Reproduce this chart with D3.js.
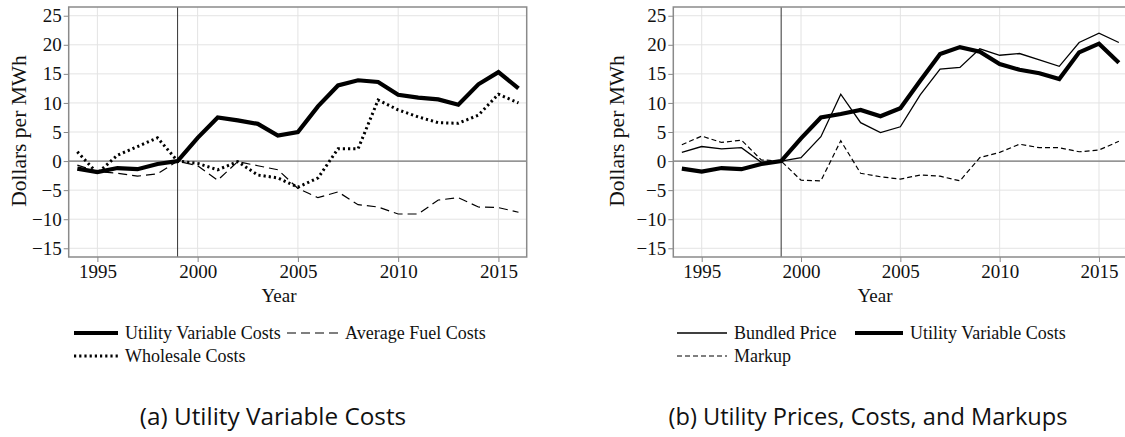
<!DOCTYPE html>
<html>
<head>
<meta charset="utf-8">
<script src="https://cdn.jsdelivr.net/npm/d3@7"></script>
<style>
  body { margin: 0; background: #fff; }
  svg { display: block; }
</style>
</head>
<body>
<div id="chart"></div>
<script>
// years on the x axis
const years = d3.range(1994, 2017);
const xTicks = [1995, 2000, 2005, 2010, 2015];
const yTicks = [-15, -10, -5, 0, 5, 10, 15, 20, 25];

// panel (a)
const utilVarCostsA = [-1.3, -1.9, -1.2, -1.4, -0.5, 0, 4.0, 7.5, 7.0, 6.4, 4.4, 5.0, 9.4, 13.0, 13.9, 13.6, 11.4, 10.9, 10.6, 9.7, 13.2, 15.3, 12.5];
const wholesaleCosts = [1.6, -2.1, 1.0, 2.5, 4.0, 0, -0.4, -1.5, -0.1, -2.4, -2.9, -4.5, -2.9, 2.1, 2.1, 10.5, 8.8, 7.6, 6.6, 6.5, 7.9, 11.5, 10.0];
const avgFuelCosts = [-0.7, -1.8, -2.1, -2.6, -2.2, 0, -0.8, -3.3, -0.1, -0.8, -1.5, -4.7, -6.3, -5.3, -7.5, -7.9, -9.1, -9.1, -6.7, -6.3, -7.9, -8.0, -8.8];

// panel (b)
const bundledPrice = [1.5, 2.5, 2.1, 2.3, -0.2, 0, 0.6, 4.2, 11.5, 6.6, 4.9, 5.9, 11.4, 15.8, 16.1, 19.3, 18.2, 18.5, 17.4, 16.3, 20.4, 22.0, 20.4];
const utilVarCostsB = [-1.3, -1.8, -1.2, -1.4, -0.5, 0, 3.9, 7.5, 8.1, 8.8, 7.7, 9.1, 13.8, 18.4, 19.6, 18.8, 16.7, 15.7, 15.1, 14.1, 18.7, 20.2, 16.9];
const markup = [2.8, 4.3, 3.2, 3.6, 0.2, 0, -3.3, -3.4, 3.5, -2.1, -2.7, -3.1, -2.4, -2.6, -3.4, 0.6, 1.5, 2.9, 2.3, 2.3, 1.6, 1.9, 3.4];

const width = 1125, height = 437;
const SERIF = "Liberation Serif";

const svg = d3.select("#chart")
  .append("svg")
    .attr("width", width)
    .attr("height", height);

const y = d3.scaleLinear().domain([-16.5, 26.5]).range([257, 7]);

// line styles
const styles = {
  thick:  { w: 4.2, dash: null },
  thin:   { w: 1.3, dash: null },
  dotted: { w: 3, dash: "2.2,3" },
  dashA:  { w: 1.2, dash: "9,5" },
  dashB:  { w: 1.2, dash: "5,3" }
};

function serifText(sel, size) {
  return sel.attr("font-family", SERIF).attr("font-size", size).attr("fill", "#111");
}

function drawPanel(opts) {
  const x = d3.scaleLinear().domain([1993.57, 2016.41]).range(opts.xRange);
  const g = svg.append("g");
  const [x0, x1] = opts.xRange;

  // grid
  g.append("g").selectAll("line").data(yTicks).join("line")
    .attr("x1", x0).attr("x2", x1)
    .attr("y1", d => y(d)).attr("y2", d => y(d))
    .attr("stroke", "#e3e3e3").attr("stroke-width", 1);
  g.append("g").selectAll("line").data(xTicks).join("line")
    .attr("x1", d => x(d)).attr("x2", d => x(d))
    .attr("y1", y.range()[1]).attr("y2", y.range()[0])
    .attr("stroke", "#e3e3e3").attr("stroke-width", 1);

  // reference lines
  g.append("line")
    .attr("x1", x0).attr("x2", x1)
    .attr("y1", y(0)).attr("y2", y(0))
    .attr("stroke", "#777").attr("stroke-width", 1.2);
  g.append("line")
    .attr("x1", x(1999)).attr("x2", x(1999))
    .attr("y1", y.range()[1]).attr("y2", y.range()[0])
    .attr("stroke", "#333").attr("stroke-width", 1);

  // axes
  const xAxis = g.append("g")
    .attr("transform", `translate(0,${y.range()[0]})`)
    .call(d3.axisBottom(x).tickValues(xTicks).tickFormat(d3.format("d")).tickSize(5).tickPadding(3));
  const yAxis = g.append("g")
    .attr("transform", `translate(${x0},0)`)
    .call(d3.axisLeft(y).tickValues(yTicks).tickSize(5).tickPadding(2));
  [xAxis, yAxis].forEach(a => {
    a.attr("font-family", SERIF).attr("font-size", 19);
    a.select(".domain").remove();
    a.selectAll(".tick line").attr("stroke", "#888");
    a.selectAll(".tick text").attr("fill", "#111");
  });

  // frame
  g.append("rect")
    .attr("x", x0).attr("y", y.range()[1])
    .attr("width", x1 - x0).attr("height", y.range()[0] - y.range()[1])
    .attr("fill", "none").attr("stroke", "#8a8a8a").attr("stroke-width", 1.5);

  // series
  const line = d3.line().x((d, i) => x(years[i])).y(d => y(d));
  opts.series.forEach(s => {
    const st = styles[s.style];
    g.append("path")
      .datum(s.values)
      .attr("fill", "none")
      .attr("stroke", "#000")
      .attr("stroke-width", st.w)
      .attr("stroke-dasharray", st.dash)
      .attr("stroke-linejoin", "miter")
      .attr("d", line);
  });

  // axis titles
  serifText(g.append("text"), 21.5)
    .attr("transform", `translate(${opts.yLabelX},131) rotate(-90)`)
    .attr("text-anchor", "middle")
    .attr("dominant-baseline", "central")
    .text("Dollars per MWh");
  serifText(g.append("text"), 19)
    .attr("x", opts.yearX).attr("y", 302)
    .attr("text-anchor", "middle")
    .text("Year");

  // legend
  opts.legend.forEach(item => {
    const st = styles[item.style];
    g.append("line")
      .attr("x1", item.x).attr("x2", item.x + item.len)
      .attr("y1", item.y).attr("y2", item.y)
      .attr("stroke", "#000")
      .attr("stroke-width", st.w)
      .attr("stroke-dasharray", st.dash);
    serifText(g.append("text"), 18)
      .attr("x", item.x + item.len + 7).attr("y", item.y + 6)
      .text(item.label);
  });

  // caption
  g.append("text")
    .attr("x", opts.captionX).attr("y", 425)
    .attr("text-anchor", "middle")
    .attr("font-family", "Open Sans")
    .attr("font-size", opts.captionSize)
    .attr("fill", "#111")
    .text(opts.caption);
}

drawPanel({
  xRange: [68.7, 526.7],
  yLabelX: 19,
  yearX: 279,
  captionX: 273,
  captionSize: 24.3,
  caption: "(a) Utility Variable Costs",
  series: [
    { values: avgFuelCosts, style: "dashA" },
    { values: wholesaleCosts, style: "dotted" },
    { values: utilVarCostsA, style: "thick" }
  ],
  legend: [
    { x: 74, y: 333, len: 44, style: "thick", label: "Utility Variable Costs" },
    { x: 287, y: 333, len: 51, style: "dashA", label: "Average Fuel Costs" },
    { x: 74, y: 356, len: 44, style: "dotted", label: "Wholesale Costs" }
  ]
});

drawPanel({
  xRange: [673.3, 1127],
  yLabelX: 617,
  yearX: 875,
  captionX: 868,
  captionSize: 23.6,
  caption: "(b) Utility Prices, Costs, and Markups",
  series: [
    { values: markup, style: "dashB" },
    { values: bundledPrice, style: "thin" },
    { values: utilVarCostsB, style: "thick" }
  ],
  legend: [
    { x: 677, y: 333, len: 50, style: "thin", label: "Bundled Price" },
    { x: 855, y: 333, len: 48, style: "thick", label: "Utility Variable Costs" },
    { x: 677, y: 356, len: 50, style: "dashB", label: "Markup" }
  ]
});
</script>
</body>
</html>
